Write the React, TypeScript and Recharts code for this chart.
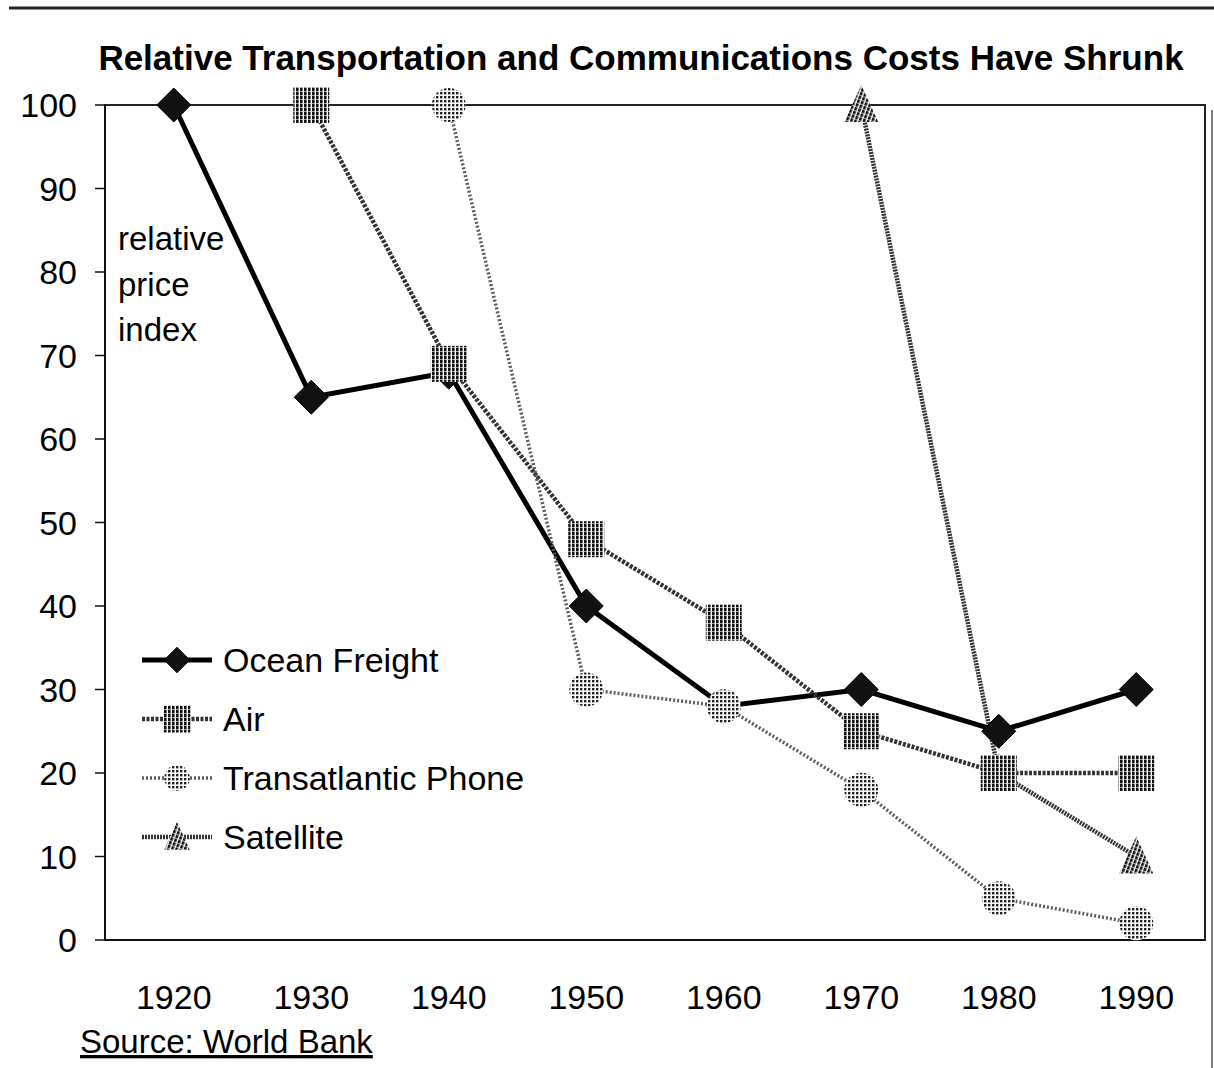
import React from "react";
import {
  LineChart,
  Line,
  XAxis,
  YAxis,
  ReferenceArea,
  Legend,
} from "recharts";

// ---- data ----
const years = [1920, 1930, 1940, 1950, 1960, 1970, 1980, 1990];
const oceanFreight = [100, 65, 68, 40, 28, 30, 25, 30];
const air = [null, 100, 69, 48, 38, 25, 20, 20];
const transatlanticPhone = [null, null, 100, 30, 28, 18, 5, 2];
const satellite = [null, null, null, null, null, 100, 20, 10];
const yTicks = [0, 10, 20, 30, 40, 50, 60, 70, 80, 90, 100];

const data = years.map((year, i) => ({
  year,
  ocean: oceanFreight[i],
  air: air[i],
  phone: transatlanticPhone[i],
  sat: satellite[i],
}));

const FONT = '"Liberation Sans", Arial, Helvetica, sans-serif';

// ---- markers ----
type MProps = { cx: number; cy: number; s?: number };

const DiamondMark = ({ cx, cy, s = 1 }: MProps) => {
  const r = 17 * s;
  return (
    <polygon
      points={`${cx},${cy - r} ${cx + r},${cy} ${cx},${cy + r} ${cx - r},${cy}`}
      fill="#111"
      stroke="#000"
      strokeWidth={1}
    />
  );
};

const SquareMark = ({ cx, cy, s = 1 }: MProps) => {
  const h = 18 * s;
  return (
    <g>
      <rect x={cx - h} y={cy - h} width={2 * h} height={2 * h} fill="#fff" />
      <rect x={cx - h} y={cy - h} width={2 * h} height={2 * h} fill="url(#airHatch)" />
    </g>
  );
};

const CircleMark = ({ cx, cy, s = 1 }: MProps) => {
  const r = 17 * s;
  return (
    <g>
      <circle cx={cx} cy={cy} r={r} fill="#fff" />
      <circle cx={cx} cy={cy} r={r} fill="url(#phoneDots)" />
    </g>
  );
};

const TriangleMark = ({ cx, cy, s = 1 }: MProps) => {
  const pts = `${cx},${cy - 20 * s} ${cx + 17 * s},${cy + 17 * s} ${cx - 17 * s},${cy + 17 * s}`;
  return (
    <g>
      <polygon points={pts} fill="#fff" />
      <polygon points={pts} fill="url(#satHatch)" />
    </g>
  );
};

const SERIES = [
  { key: "ocean", name: "Ocean Freight", stroke: "#000", width: 5, dash: undefined as string | undefined, Mark: DiamondMark },
  { key: "air", name: "Air", stroke: "#333", width: 4.5, dash: "3 1.5", Mark: SquareMark },
  { key: "phone", name: "Transatlantic Phone", stroke: "#5e5e5e", width: 3.5, dash: "2 2", Mark: CircleMark },
  { key: "sat", name: "Satellite", stroke: "#333", width: 4.5, dash: "2 1", Mark: TriangleMark },
];

const makeDot = (Mark: React.FC<MProps>) => (props: any) => {
  const { cx, cy, index, value } = props;
  if (value == null || cx == null || cy == null || isNaN(cy)) {
    return <g key={`e-${index}`} />;
  }
  return (
    <g key={`m-${index}`}>
      <Mark cx={cx} cy={cy} />
    </g>
  );
};

const YTick = (props: any) => {
  const { x, y, payload } = props;
  return (
    <text x={x} y={y} dy="0.36em" textAnchor="end" fontSize={34} fontFamily={FONT} fill="#000">
      {payload.value}
    </text>
  );
};

const XTick = (props: any) => {
  const { x, y, payload } = props;
  return (
    <text x={x} y={y + 69} textAnchor="middle" fontSize={34} fontFamily={FONT} fill="#000">
      {payload.value}
    </text>
  );
};

const LegendContent = () => {
  const rowY = [30, 89, 148, 207];
  const order = ["ocean", "air", "phone", "sat"];
  return (
    <svg width={440} height={240} style={{ overflow: "visible", display: "block" }}>
      {order.map((k, i) => {
        const s = SERIES.find((d) => d.key === k)!;
        const y = rowY[i];
        const M = s.Mark;
        return (
          <g key={k}>
            <line
              x1={2}
              x2={72}
              y1={y}
              y2={y}
              stroke={s.stroke}
              strokeWidth={s.width}
              strokeDasharray={s.dash}
            />
            <M cx={37} cy={y} s={0.75} />
            <text x={83} y={y} dy="0.36em" fontSize={34} fontFamily={FONT} fill="#000">
              {s.name}
            </text>
          </g>
        );
      })}
    </svg>
  );
};

export default function App() {
  const W = 1214;
  const H = 1068;
  return (
    <div style={{ position: "absolute", left: 0, top: 0, width: W, height: H, background: "#fff" }}>
      <svg width={0} height={0} style={{ position: "absolute" }}>
        <defs>
          <pattern id="airHatch" patternUnits="userSpaceOnUse" width={4} height={4}>
            <rect x={0} y={0} width={2.6} height={3.4} fill="#111" />
          </pattern>
          <pattern id="phoneDots" patternUnits="userSpaceOnUse" width={4} height={4}>
            <rect x={0} y={0} width={2.4} height={2.4} fill="#222" />
          </pattern>
          <pattern
            id="satHatch"
            patternUnits="userSpaceOnUse"
            width={4}
            height={4}
            patternTransform="rotate(20)"
          >
            <rect x={0} y={0} width={2.6} height={3.4} fill="#111" />
          </pattern>
        </defs>
      </svg>

      <LineChart
        width={W}
        height={H}
        data={data}
        margin={{ top: 105, right: 9, left: 0, bottom: 0 }}
      >
        <XAxis
          dataKey="year"
          type="number"
          domain={[1915, 1995]}
          ticks={years}
          height={128}
          tickLine={false}
          tickSize={0}
          tickMargin={0}
          axisLine={{ stroke: "#111", strokeWidth: 2 }}
          tick={<XTick />}
          interval={0}
        />
        <YAxis
          type="number"
          domain={[0, 100]}
          ticks={yTicks}
          width={105}
          tickSize={10}
          tickMargin={18}
          tickLine={{ stroke: "#111", strokeWidth: 1.5 }}
          axisLine={{ stroke: "#111", strokeWidth: 2 }}
          tick={<YTick />}
          interval={0}
        />
        <ReferenceArea
          x1={1915}
          x2={1995}
          y1={0}
          y2={100}
          fill="none"
          fillOpacity={0}
          stroke="#222"
          strokeWidth={2}
        />
        {["sat", "ocean", "air", "phone"].map((k) => {
          const s = SERIES.find((d) => d.key === k)!;
          return (
            <Line
              key={k}
              type="linear"
              dataKey={k}
              name={s.name}
              stroke={s.stroke}
              strokeWidth={s.width}
              strokeDasharray={s.dash}
              dot={makeDot(s.Mark)}
              activeDot={false}
              isAnimationActive={false}
              legendType="none"
            />
          );
        })}
        <Legend
          layout="vertical"
          align="center"
          verticalAlign="middle"
          content={<LegendContent />}
          wrapperStyle={{ position: "absolute", left: 140, top: 630, width: 440, height: 240 }}
        />
      </LineChart>

      <svg
        width={W}
        height={H}
        style={{ position: "absolute", left: 0, top: 0, pointerEvents: "none" }}
      >
        <line x1={9} x2={W} y1={8} y2={8} stroke="#222" strokeWidth={3} />
        <line x1={1212} x2={1212} y1={110} y2={H} stroke="#555" strokeWidth={1.5} />
        <text
          x={641}
          y={70}
          textAnchor="middle"
          fontSize={35}
          fontWeight="bold"
          fontFamily={FONT}
          fill="#000"
        >
          Relative Transportation and Communications Costs Have Shrunk
        </text>
        <text fontSize={33} fontFamily={FONT} fill="#000">
          <tspan x={118} y={250}>relative</tspan>
          <tspan x={118} y={296}>price</tspan>
          <tspan x={118} y={341}>index</tspan>
        </text>
        <text
          x={80}
          y={1053}
          fontSize={33}
          fontFamily={FONT}
          fill="#000"
          textDecoration="underline"
          style={{ textDecoration: "underline" }}
        >
          Source: World Bank
        </text>
      </svg>
    </div>
  );
}
